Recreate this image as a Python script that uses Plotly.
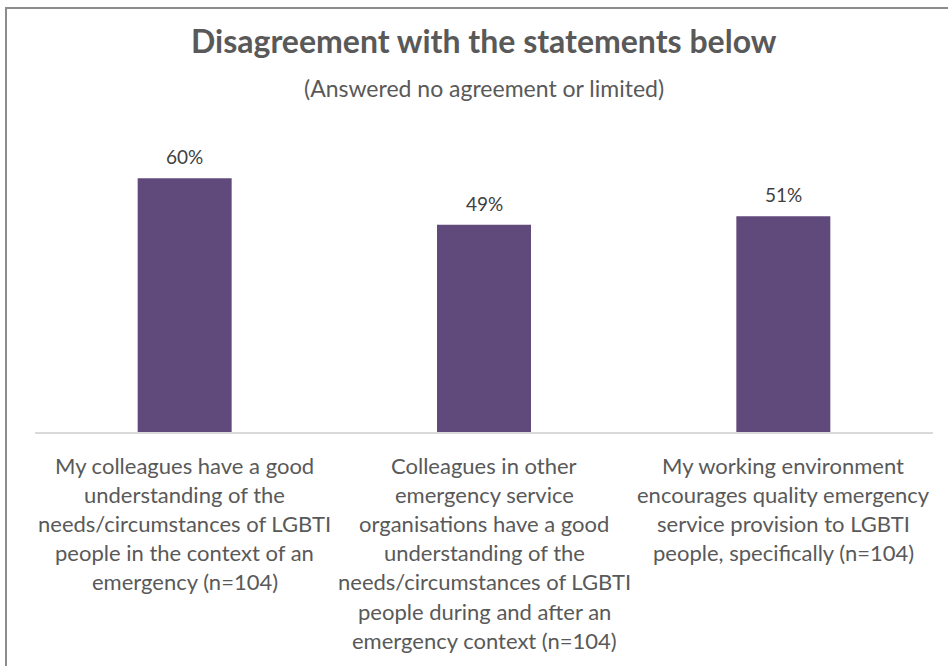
import plotly.graph_objects as go

# Survey statements (line breaks as shown under each bar)
categories = [
    "My colleagues have a good<br>understanding of the<br>needs/circumstances of LGBTI<br>people in the context of an<br>emergency (n=104)",
    "Colleagues in other<br>emergency service<br>organisations have a good<br>understanding of the<br>needs/circumstances of LGBTI<br>people during and after an<br>emergency context (n=104)",
    "My working environment<br>encourages quality emergency<br>service provision to LGBTI<br>people, specifically (n=104)",
]
values = [60, 49, 51]  # percent disagreeing

W, H = 948, 666
ML, MR, MT, MB = 35, 15, 136, 234
plot_w = W - ML - MR
plot_h = H - MT - MB

FONT = "Lato, Carlito, Calibri, sans-serif"
TEXT = "#595959"
BAR = "#604A7B"

xs = list(range(len(categories)))

fig = go.Figure(
    go.Bar(
        x=xs,
        y=values,
        marker=dict(color=BAR, line=dict(width=0)),
        hoverinfo="skip",
    )
)

def px_to_paper_x(px):
    return (px - ML) / plot_w

def px_to_paper_y(py):
    return (H - MB - py) / plot_h

annotations = []
# value labels above each bar
for x, v in zip(xs, values):
    annotations.append(dict(
        x=x, y=v, xref="x", yref="y", text=f"{v}%", showarrow=False,
        yanchor="bottom", yshift=8, font=dict(family=FONT, size=19, color="#404040"),
    ))

# category labels under the axis, one annotation per line for tight spacing
LINE = 29.2
for x, cat in zip(xs, categories):
    for i, line in enumerate(cat.split("<br>")):
        annotations.append(dict(
            x=x, y=px_to_paper_y(465 + i * LINE), xref="x", yref="paper",
            text=line, showarrow=False, yanchor="middle",
            font=dict(family=FONT, size=22, color=TEXT),
        ))

# title and subtitle
annotations.append(dict(
    x=0.5, y=px_to_paper_y(41), xref="paper", yref="paper",
    text="<b>Disagreement with the statements below</b>", showarrow=False,
    yanchor="middle", font=dict(family=FONT, size=32, color=TEXT),
))
annotations.append(dict(
    x=0.5, y=px_to_paper_y(88), xref="paper", yref="paper",
    text="(Answered no agreement or limited)", showarrow=False,
    yanchor="middle", font=dict(family=FONT, size=23, color=TEXT),
))

fig.update_layout(
    width=W, height=H,
    margin=dict(l=ML, r=MR, t=MT, b=MB),
    paper_bgcolor="white", plot_bgcolor="white",
    showlegend=False,
    bargap=0.686,
    xaxis=dict(
        range=[-0.5, 2.5], showticklabels=False, showgrid=False, zeroline=False,
        showline=True, linecolor="#D9D9D9", linewidth=1.5, ticks="",
    ),
    yaxis=dict(range=[0, 70], visible=False, showgrid=False, zeroline=False),
    annotations=annotations,
    shapes=[dict(
        type="rect", xref="paper", yref="paper",
        x0=px_to_paper_x(6), x1=px_to_paper_x(960),
        y0=px_to_paper_y(680), y1=px_to_paper_y(8),
        line=dict(color="#8C8C8C", width=2), fillcolor="rgba(0,0,0,0)", layer="below",
    )],
)

fig.write_html("out.html")
